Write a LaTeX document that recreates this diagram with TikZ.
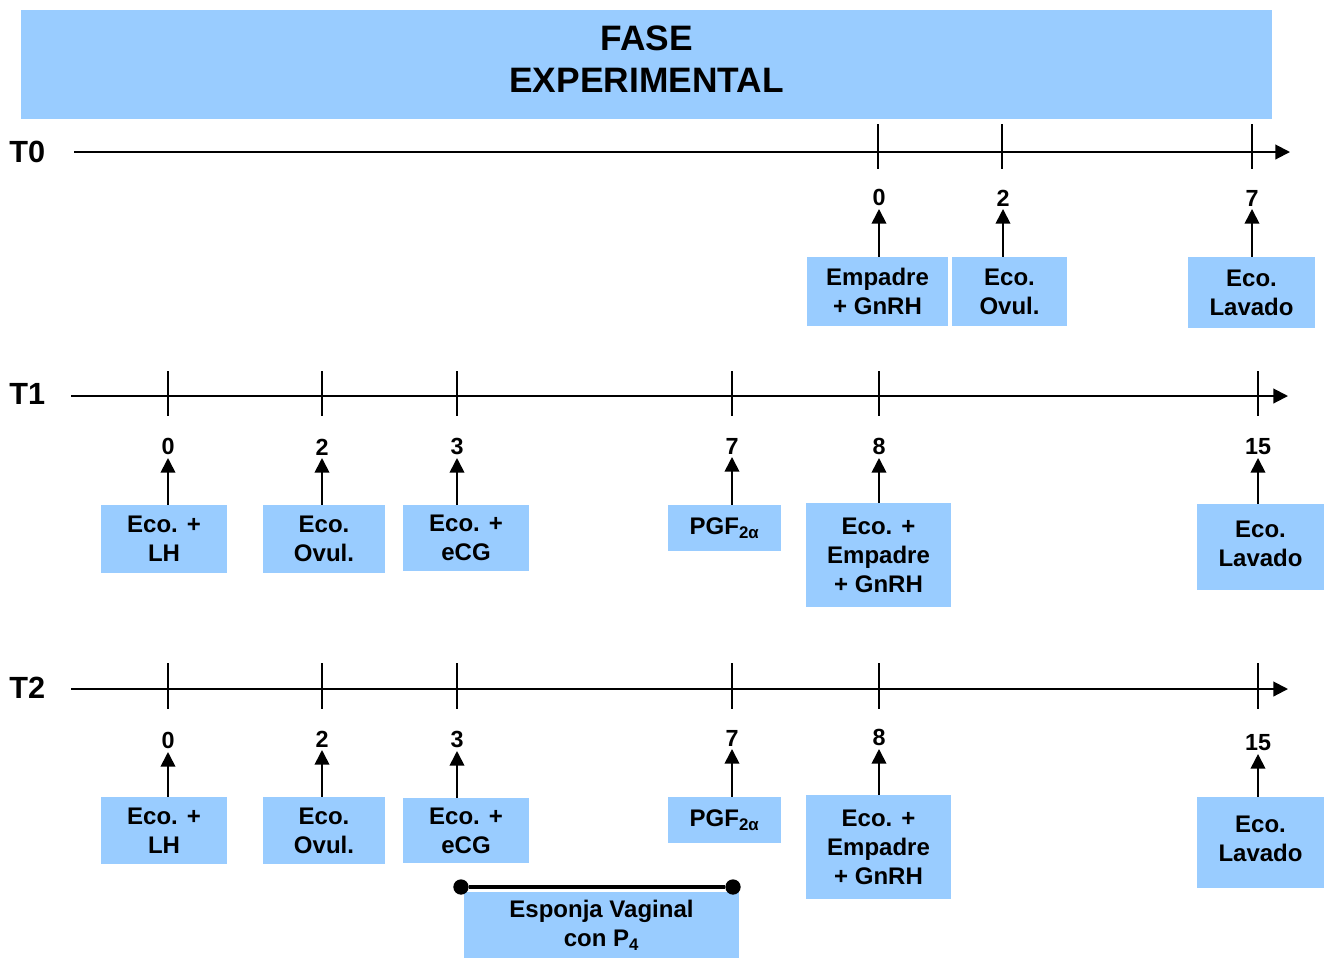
\documentclass[tikz,border=0pt]{standalone}
\usepackage{fontspec}
\setmainfont{Liberation Sans}
\usetikzlibrary{arrows.meta,positioning}

\begin{document}
\begin{tikzpicture}[x=0.75pt,y=-0.75pt]  %1 unit = 1 px of the sheet, y runs downwards
    \useasboundingbox (0,0) rectangle (1327,958);
    \definecolor{fase-blue}{RGB}{153,204,255}  %light blue boxes
    \tikzstyle{caja} = [fill=fase-blue,inner sep=0pt,align=center,font=\bfseries\fontsize{18}{21.75}\selectfont]
    \tikzstyle{dia} = [font=\bfseries\fontsize{17.5}{20}\selectfont,inner sep=2pt,anchor=south]
    \tikzstyle{tiempo} = [font=\bfseries\fontsize{23}{27}\selectfont,inner sep=0pt,anchor=west]
    \tikzstyle{eje} = [line width=1.5pt,-{Triangle[length=11pt,width=11pt]}]
    \tikzstyle{marca} = [line width=1.3pt]
    \tikzstyle{flecha} = [line width=1.3pt,-{Triangle[length=11pt,width=11pt]}]
    \tikzstyle{punto} = [circle,fill=black,inner sep=0pt,minimum size=11.5pt]

    % title
    \node[caja,minimum width=938.25pt,minimum height=81.75pt,text depth=7.5pt,font=\bfseries\fontsize{26.5}{31.5}\selectfont] (fase) at (646.5,64.5) {FASE\\EXPERIMENTAL};

    % ---------- T0 ----------
    \def\yo{152}  %axis height
    \node[tiempo] (T0) at (9,\yo) {T0};
    \coordinate (T0a) at (74,\yo);  \coordinate (T0b) at (1290,\yo);
    \draw[eje] (T0a) -- (T0b);
    \draw[marca] (878,\yo-28) -- (878,\yo+17);
    \draw[marca] (1002,\yo-28) -- (1002,\yo+17);
    \draw[marca] (1252,\yo-28) -- (1252,\yo+17);

    \node[dia] (n00) at (879,209) {0};
    \node[dia] (n02) at (1003,209) {2};
    \node[dia] (n07) at (1252,209) {7};

    \node[caja,minimum width=105.75pt,minimum height=51.75pt] (b00) at (877.5,291.5) {Empadre\\+ GnRH};
    \node[caja,minimum width=86.25pt,minimum height=51.75pt] (b02) at (1009.5,291.5) {Eco.\\Ovul.};
    \node[caja,minimum width=95.25pt,minimum height=53.25pt] (b07) at (1251.5,292.5) {Eco.\\Lavado};

    \draw[flecha] (b00.north -| n00) -- (n00.south);
    \draw[flecha] (b02.north -| n02) -- (n02.south);
    \draw[flecha] (b07.north -| n07) -- (n07.south);

    % ---------- T1 ----------
    \def\yo{396}  %axis height
    \node[tiempo] (T1) at (9,\yo-2) {T1};
    \coordinate (T1a) at (71,\yo);  \coordinate (T1b) at (1288,\yo);
    \draw[eje] (T1a) -- (T1b);
    \draw[marca] (168,\yo-25) -- (168,\yo+20);
    \draw[marca] (322,\yo-25) -- (322,\yo+20);
    \draw[marca] (457,\yo-25) -- (457,\yo+20);
    \draw[marca] (732,\yo-25) -- (732,\yo+20);
    \draw[marca] (879,\yo-25) -- (879,\yo+20);
    \draw[marca] (1258,\yo-25) -- (1258,\yo+20);

    \node[dia] (n10) at (168,458) {0};
    \node[dia] (n12) at (322,458) {2};
    \node[dia] (n13) at (457,458) {3};
    \node[dia] (n17) at (732,457) {7};
    \node[dia] (n18) at (879,458) {8};
    \node[dia] (n115) at (1258,458) {15};

    \node[caja,minimum width=94.5pt,minimum height=51pt] (b10) at (164,539) {Eco. +\\LH};
    \node[caja,minimum width=91.5pt,minimum height=51pt] (b12) at (324,539) {Eco.\\Ovul.};
    \node[caja,minimum width=94.5pt,minimum height=49.5pt] (b13) at (466,538) {Eco. +\\eCG};
    \node[caja,minimum width=84.75pt,minimum height=34.5pt] (b17) at (724.5,528) {PGF\textsubscript{2α}};
    \node[caja,minimum width=108.75pt,minimum height=78pt] (b18) at (878.5,555) {Eco. +\\Empadre\\+ GnRH};
    \node[caja,minimum width=95.25pt,minimum height=64.5pt,text depth=5pt] (b115) at (1260.5,547) {Eco.\\Lavado};

    \draw[flecha] (b10.north -| n10) -- (n10.south);
    \draw[flecha] (b12.north -| n12) -- (n12.south);
    \draw[flecha] (b13.north -| n13) -- (n13.south);
    \draw[flecha] (b17.north -| n17) -- (n17.south);
    \draw[flecha] (b18.north -| n18) -- (n18.south);
    \draw[flecha] (b115.north -| n115) -- (n115.south);

    % ---------- T2 ----------
    \def\yo{689}  %axis height
    \node[tiempo] (T2) at (9,\yo-1) {T2};
    \coordinate (T2a) at (71,\yo);  \coordinate (T2b) at (1288,\yo);
    \draw[eje] (T2a) -- (T2b);
    \draw[marca] (168,\yo-26) -- (168,\yo+20);
    \draw[marca] (322,\yo-26) -- (322,\yo+20);
    \draw[marca] (457,\yo-26) -- (457,\yo+20);
    \draw[marca] (732,\yo-26) -- (732,\yo+20);
    \draw[marca] (879,\yo-26) -- (879,\yo+20);
    \draw[marca] (1258,\yo-26) -- (1258,\yo+20);

    \node[dia] (n20) at (168,752) {0};
    \node[dia] (n22) at (322,750) {2};
    \node[dia] (n23) at (457,751) {3};
    \node[dia] (n27) at (732,749) {7};
    \node[dia] (n28) at (879,749) {8};
    \node[dia] (n215) at (1258,754) {15};

    \node[caja,minimum width=94.5pt,minimum height=50.25pt] (b20) at (164,830.5) {Eco. +\\LH};
    \node[caja,minimum width=91.5pt,minimum height=50.25pt] (b22) at (324,830.5) {Eco.\\Ovul.};
    \node[caja,minimum width=94.5pt,minimum height=48.75pt] (b23) at (466,830.5) {Eco. +\\eCG};
    \node[caja,minimum width=84.75pt,minimum height=34.5pt] (b27) at (724.5,820) {PGF\textsubscript{2α}};
    \node[caja,minimum width=108.75pt,minimum height=78pt] (b28) at (878.5,847) {Eco. +\\Empadre\\+ GnRH};
    \node[caja,minimum width=95.25pt,minimum height=68.25pt,text depth=5pt] (b215) at (1260.5,842.5) {Eco.\\Lavado};

    \draw[flecha] (b20.north -| n20) -- (n20.south);
    \draw[flecha] (b22.north -| n22) -- (n22.south);
    \draw[flecha] (b23.north -| n23) -- (n23.south);
    \draw[flecha] (b27.north -| n27) -- (n27.south);
    \draw[flecha] (b28.north -| n28) -- (n28.south);
    \draw[flecha] (b215.north -| n215) -- (n215.south);

    % sponge from day 3 to day 7
    \node[caja,minimum width=206.25pt,minimum height=49.5pt] (esp) at (601.5,925) {Esponja Vaginal\\con P\textsubscript{4}};
    \node[punto] (espa) at (461,887) {};
    \node[punto] (espb) at (733,887) {};
    \draw[line width=3pt] (espa) -- (espb);
\end{tikzpicture}
\end{document}
